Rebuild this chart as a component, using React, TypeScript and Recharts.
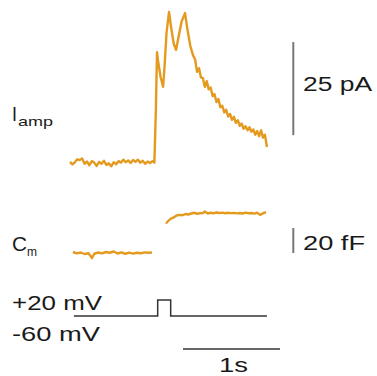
import { ComposedChart, Line, XAxis, YAxis, ReferenceLine } from "recharts";

// time in s, current in pA, capacitance in fF (relative), voltage in mV
const iTime = [
  0, 0.025, 0.05, 0.075, 0.1, 0.125, 0.15, 0.175, 0.2, 0.225, 0.25, 0.275, 0.3, 0.325, 0.35, 0.375,
  0.4, 0.425, 0.45, 0.475, 0.5, 0.525, 0.55, 0.575, 0.6, 0.625, 0.65, 0.675, 0.7, 0.725, 0.75, 0.775,
  0.8, 0.825, 0.85, 0.87, 0.885, 0.897, 0.91, 0.935, 0.96, 0.975, 0.995, 1.021, 1.045, 1.07, 1.093,
  1.12, 1.15, 1.186, 1.21, 1.24, 1.268, 1.29, 1.31, 1.33, 1.35, 1.37, 1.39, 1.41, 1.43, 1.45, 1.47,
  1.49, 1.51, 1.53, 1.55, 1.57, 1.59, 1.61, 1.63, 1.65, 1.67, 1.69, 1.71, 1.73, 1.75, 1.77, 1.79,
  1.81, 1.83, 1.85, 1.87, 1.89, 1.91, 1.93, 1.95, 1.97, 1.99, 2.01, 2.03,
];
const iAmp = [
  0.3, -0.4, 0.2, 1.0, 0.8, 1.2, -0.2, 0.4, -0.6, 0.5, 0.1, -0.8, 0.3, -0.2, 0.6, -0.5,
  -0.1, -0.9, 0.2, -0.3, 0.5, 0.1, 0.9, 0.2, 0.7, 0.0, 0.8, 0.3, 0.9, 0.1, 0.6, -0.2,
  0.4, 0.0, 0.5, 0.1, 14, 29.8, 27, 23, 20.5, 26, 35, 40.6, 36, 32, 30.4,
  34, 38, 40.3, 36, 31.5, 29.0, 27.8, 24.5, 25.5, 23.0, 22.8, 20.5, 22.0, 19.8, 20.3, 18.0,
  18.5, 16.4, 17.2, 15.0, 15.4, 13.6, 14.3, 12.5, 13.2, 11.6, 12.4, 10.8, 11.5, 10.0, 10.6, 9.2,
  9.9, 8.8, 9.6, 8.4, 9.0, 7.6, 8.6, 7.2, 8.8, 6.8, 7.6, 4.3,
];

const cmTime = [
  0.03, 0.07, 0.11, 0.15, 0.19, 0.227, 0.25, 0.29, 0.33, 0.37, 0.41, 0.45, 0.49, 0.53, 0.57, 0.61,
  0.65, 0.69, 0.73, 0.77, 0.81, 0.845, 0.92,
  0.99, 1.01, 1.04, 1.07, 1.1, 1.13, 1.16, 1.19, 1.22, 1.25, 1.28, 1.31, 1.34, 1.37, 1.39, 1.42,
  1.45, 1.48, 1.51, 1.54, 1.57, 1.6, 1.63, 1.66, 1.69, 1.72, 1.75, 1.78, 1.81, 1.84, 1.87, 1.9,
  1.93, 1.96, 1.99, 2.02,
];
const cmVal: (number | null)[] = [
  0.8, -0.3, 0.4, -0.8, -0.2, -4.0, -0.6, 0.4, -0.3, 0.8, 0.2, 1.2, -0.4, 0.5, -0.6, 0.3,
  -0.5, 0.2, -0.2, 0.5, 0.2, 0.4, null,
  23.5, 25.5, 27.5, 28.5, 30.0, 30.5, 30.2, 31.2, 30.8, 31.6, 32.2, 31.4, 31.8, 32.0, 33.2, 31.6,
  32.2, 31.8, 32.4, 32.0, 32.3, 31.8, 32.2, 31.9, 32.1, 31.7, 32.0, 31.6, 32.3, 31.8, 32.0, 31.5,
  32.2, 30.5, 31.8, 32.6,
];

const vTime = [0.04, 0.904, 0.904, 1.038, 1.038, 2.03];
const vVal = [-60, -60, 20, 20, -60, -60];

const currentData = iTime.map((t, i) => ({ t, v: iAmp[i] }));
const cmData = cmTime.map((t, i) => ({ t, v: cmVal[i] }));
const vData = vTime.map((t, i) => ({ t, v: vVal[i] }));

const ORANGE = "#E49A1E";
const FONT = "'Liberation Sans', Arial, Helvetica, sans-serif";

export default function App() {
  return (
    <div style={{ position: "absolute", left: 0, top: 0, width: 377, height: 376 }}>
      <ComposedChart width={377} height={376} margin={{ top: 0, right: 0, bottom: 0, left: 0 }}>
        <XAxis hide type="number" dataKey="t" domain={[-70 / 97, 307 / 97]} allowDataOverflow />
        <YAxis hide yAxisId="i" type="number" domain={[-57.26, 43.82]} allowDataOverflow />
        <YAxis hide yAxisId="c" type="number" domain={[-98.4, 202.4]} allowDataOverflow />
        <YAxis hide yAxisId="v" type="number" domain={[-360, 1520]} allowDataOverflow />
        <Line
          yAxisId="i"
          data={currentData}
          dataKey="v"
          stroke={ORANGE}
          strokeWidth={2.4}
          dot={false}
          activeDot={false}
          type="linear"
          strokeLinejoin="round"
          isAnimationActive={false}
        />
        <Line
          yAxisId="c"
          data={cmData}
          dataKey="v"
          stroke={ORANGE}
          strokeWidth={2.4}
          dot={false}
          activeDot={false}
          type="linear"
          connectNulls={false}
          strokeLinejoin="round"
          isAnimationActive={false}
        />
        <Line
          yAxisId="v"
          data={vData}
          dataKey="v"
          stroke="#333"
          strokeWidth={1.5}
          dot={false}
          activeDot={false}
          type="linear"
          isAnimationActive={false}
        />
        <ReferenceLine
          yAxisId="i"
          segment={[{ x: 2.302, y: 7.5 }, { x: 2.302, y: 32.5 }]}
          stroke="#777"
          strokeWidth={2}
          ifOverflow="visible"
        />
        <ReferenceLine
          yAxisId="c"
          segment={[{ x: 2.302, y: 0 }, { x: 2.302, y: 20 }]}
          stroke="#777"
          strokeWidth={2}
          ifOverflow="visible"
        />
        <ReferenceLine
          yAxisId="v"
          segment={[{ x: 1.165, y: -225 }, { x: 2.165, y: -225 }]}
          stroke="#666"
          strokeWidth={1.8}
          ifOverflow="visible"
        />
      </ComposedChart>
      <svg
        width={377}
        height={376}
        style={{ position: "absolute", left: 0, top: 0, pointerEvents: "none" }}
        fontFamily={FONT}
        fill="#1a1a1a"
      >
        <text x={12} y={121} fontSize={20} textLength={5} lengthAdjust="spacingAndGlyphs">I</text>
        <text x={18} y={126} fontSize={13} textLength={35} lengthAdjust="spacingAndGlyphs">amp</text>
        <text x={12} y={251} fontSize={20} textLength={15} lengthAdjust="spacingAndGlyphs">C</text>
        <text x={27} y={256} fontSize={13} textLength={10} lengthAdjust="spacingAndGlyphs">m</text>
        <text x={303} y={91} fontSize={20} textLength={69} lengthAdjust="spacingAndGlyphs">25 pA</text>
        <text x={303} y={250} fontSize={20} textLength={62} lengthAdjust="spacingAndGlyphs">20 fF</text>
        <text x={12} y={310} fontSize={20} textLength={90} lengthAdjust="spacingAndGlyphs">+20 mV</text>
        <text x={12} y={341} fontSize={20} textLength={88} lengthAdjust="spacingAndGlyphs">-60 mV</text>
        <text x={219} y={372} fontSize={20} textLength={29} lengthAdjust="spacingAndGlyphs">1s</text>
      </svg>
    </div>
  );
}
